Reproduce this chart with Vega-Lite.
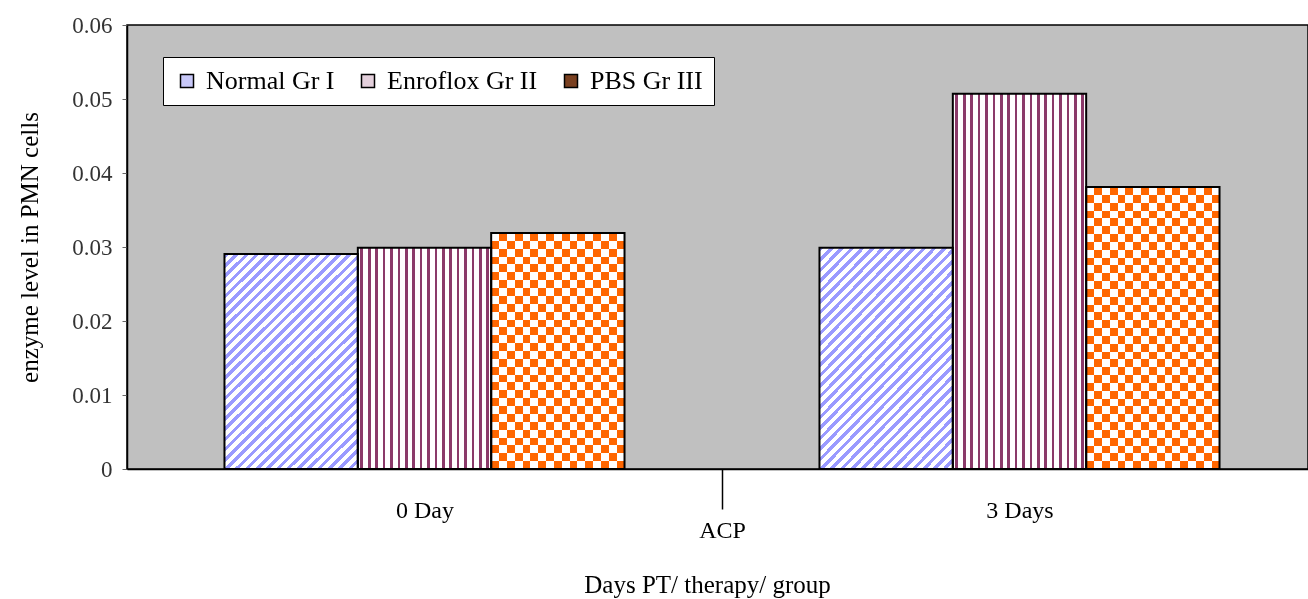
{
  "$schema": "https://vega.github.io/schema/vega-lite/v6.json",
  "description": "ACP enzyme level in PMN cells by day and group",
  "width": 1181,
  "height": 444,
  "autosize": "none",
  "padding": {"left": 127, "top": 25, "right": 0, "bottom": 130},
  "background": "white",
  "title": {
    "text": "Days PT/ therapy/ group",
    "orient": "bottom",
    "anchor": "middle",
    "frame": "group",
    "font": "Liberation Serif",
    "fontSize": 25,
    "fontWeight": "normal",
    "color": "black",
    "offset": 31,
    "dx": -10
  },
  "data": {
    "values": [
      {"day": "0 Day", "group": "Normal Gr I", "value": 0.02905},
      {"day": "0 Day", "group": "Enroflox Gr II", "value": 0.0299},
      {"day": "0 Day", "group": "PBS Gr III", "value": 0.0319},
      {"day": "3 Days", "group": "Normal Gr I", "value": 0.0299},
      {"day": "3 Days", "group": "Enroflox Gr II", "value": 0.0507},
      {"day": "3 Days", "group": "PBS Gr III", "value": 0.0381}
    ]
  },
  "encoding": {
    "x": {
      "field": "day",
      "type": "nominal",
      "scale": {"domain": ["0 Day", "3 Days"], "range": [0, 1190], "paddingInner": 0, "paddingOuter": 0},
      "axis": {
        "title": "ACP",
        "labelAngle": 0,
        "domainColor": "black",
        "domainWidth": 1.5,
        "tickBand": "extent",
        "tickSize": 40,
        "tickColor": "black",
        "tickWidth": 1.5,
        "tickOpacity": {"condition": {"test": "datum.value === '0 Day'", "value": 1}, "value": 0},
        "labelFont": "Liberation Serif",
        "labelFontSize": 24,
        "labelColor": "black",
        "labelPadding": -11,
        "titleFont": "Liberation Serif",
        "titleFontSize": 24,
        "titleFontWeight": "normal",
        "titleColor": "black",
        "titlePadding": -4
      }
    },
    "xOffset": {
      "field": "group",
      "type": "nominal",
      "scale": {"domain": ["Normal Gr I", "Enroflox Gr II", "PBS Gr III"], "paddingInner": 0, "paddingOuter": 0.731}
    },
    "y": {
      "field": "value",
      "type": "quantitative",
      "scale": {"domain": [0, 0.06], "nice": false},
      "axis": {
        "title": "enzyme level in PMN cells",
        "values": [0, 0.01, 0.02, 0.03, 0.04, 0.05, 0.06],
        "format": "~g",
        "grid": false,
        "domainColor": "black",
        "domainWidth": 1.5,
        "tickColor": "#666666",
        "tickSize": 5,
        "labelFont": "Liberation Serif",
        "labelFontSize": 23,
        "labelColor": "#333333",
        "labelPadding": 10,
        "titleFont": "Liberation Serif",
        "titleFontSize": 25,
        "titleFontWeight": "normal",
        "titleColor": "black",
        "titlePadding": 29
      }
    }
  },
  "layer": [
    {
      "mark": {"type": "bar"},
      "encoding": {
        "fill": {
          "field": "group",
          "type": "nominal",
          "scale": {"domain": ["Normal Gr I", "Enroflox Gr II", "PBS Gr III"], "range": ["#c8c8f8", "#e4d0dc", "#7a4020"]},
          "legend": {
            "title": null,
            "orient": "none",
            "legendX": 36,
            "legendY": 32,
            "direction": "horizontal",
            "columns": 3,
            "fillColor": "white",
            "strokeColor": "black",
            "padding": 11,
            "symbolType": "square",
            "symbolSize": 169,
            "symbolStrokeColor": "black",
            "symbolStrokeWidth": 1.5,
            "symbolOpacity": 1,
            "labelFont": "Liberation Serif",
            "labelFontSize": 26,
            "labelColor": "black",
            "labelOffset": 6,
            "columnPadding": 20,
            "labelLimit": 300
          }
        }
      }
    },
    {
      "mark": {"type": "bar"},
      "encoding": {
        "fill": {
          "condition": [
            {
              "test": "datum.group === 'Normal Gr I'",
              "value": {
                "gradient": "linear", "x1": 0, "y1": 0, "x2": 0.72, "y2": 1.17,
                "stops": [
                  {"offset": 0, "color": "#9a9aff"}, {"offset": 0.0132, "color": "#9a9aff"}, {"offset": 0.0132, "color": "#ffffff"}, {"offset": 0.0294, "color": "#ffffff"},
                  {"offset": 0.0294, "color": "#9a9aff"}, {"offset": 0.0426, "color": "#9a9aff"}, {"offset": 0.0426, "color": "#ffffff"}, {"offset": 0.0588, "color": "#ffffff"},
                  {"offset": 0.0588, "color": "#9a9aff"}, {"offset": 0.072, "color": "#9a9aff"}, {"offset": 0.072, "color": "#ffffff"}, {"offset": 0.0882, "color": "#ffffff"},
                  {"offset": 0.0882, "color": "#9a9aff"}, {"offset": 0.1014, "color": "#9a9aff"}, {"offset": 0.1014, "color": "#ffffff"}, {"offset": 0.1176, "color": "#ffffff"},
                  {"offset": 0.1176, "color": "#9a9aff"}, {"offset": 0.1308, "color": "#9a9aff"}, {"offset": 0.1308, "color": "#ffffff"}, {"offset": 0.1471, "color": "#ffffff"},
                  {"offset": 0.1471, "color": "#9a9aff"}, {"offset": 0.1603, "color": "#9a9aff"}, {"offset": 0.1603, "color": "#ffffff"}, {"offset": 0.1765, "color": "#ffffff"},
                  {"offset": 0.1765, "color": "#9a9aff"}, {"offset": 0.1897, "color": "#9a9aff"}, {"offset": 0.1897, "color": "#ffffff"}, {"offset": 0.2059, "color": "#ffffff"},
                  {"offset": 0.2059, "color": "#9a9aff"}, {"offset": 0.2191, "color": "#9a9aff"}, {"offset": 0.2191, "color": "#ffffff"}, {"offset": 0.2353, "color": "#ffffff"},
                  {"offset": 0.2353, "color": "#9a9aff"}, {"offset": 0.2485, "color": "#9a9aff"}, {"offset": 0.2485, "color": "#ffffff"}, {"offset": 0.2647, "color": "#ffffff"},
                  {"offset": 0.2647, "color": "#9a9aff"}, {"offset": 0.2779, "color": "#9a9aff"}, {"offset": 0.2779, "color": "#ffffff"}, {"offset": 0.2941, "color": "#ffffff"},
                  {"offset": 0.2941, "color": "#9a9aff"}, {"offset": 0.3073, "color": "#9a9aff"}, {"offset": 0.3073, "color": "#ffffff"}, {"offset": 0.3235, "color": "#ffffff"},
                  {"offset": 0.3235, "color": "#9a9aff"}, {"offset": 0.3367, "color": "#9a9aff"}, {"offset": 0.3367, "color": "#ffffff"}, {"offset": 0.3529, "color": "#ffffff"},
                  {"offset": 0.3529, "color": "#9a9aff"}, {"offset": 0.3661, "color": "#9a9aff"}, {"offset": 0.3661, "color": "#ffffff"}, {"offset": 0.3824, "color": "#ffffff"},
                  {"offset": 0.3824, "color": "#9a9aff"}, {"offset": 0.3956, "color": "#9a9aff"}, {"offset": 0.3956, "color": "#ffffff"}, {"offset": 0.4118, "color": "#ffffff"},
                  {"offset": 0.4118, "color": "#9a9aff"}, {"offset": 0.425, "color": "#9a9aff"}, {"offset": 0.425, "color": "#ffffff"}, {"offset": 0.4412, "color": "#ffffff"},
                  {"offset": 0.4412, "color": "#9a9aff"}, {"offset": 0.4544, "color": "#9a9aff"}, {"offset": 0.4544, "color": "#ffffff"}, {"offset": 0.4706, "color": "#ffffff"},
                  {"offset": 0.4706, "color": "#9a9aff"}, {"offset": 0.4838, "color": "#9a9aff"}, {"offset": 0.4838, "color": "#ffffff"}, {"offset": 0.5, "color": "#ffffff"},
                  {"offset": 0.5, "color": "#9a9aff"}, {"offset": 0.5132, "color": "#9a9aff"}, {"offset": 0.5132, "color": "#ffffff"}, {"offset": 0.5294, "color": "#ffffff"},
                  {"offset": 0.5294, "color": "#9a9aff"}, {"offset": 0.5426, "color": "#9a9aff"}, {"offset": 0.5426, "color": "#ffffff"}, {"offset": 0.5588, "color": "#ffffff"},
                  {"offset": 0.5588, "color": "#9a9aff"}, {"offset": 0.572, "color": "#9a9aff"}, {"offset": 0.572, "color": "#ffffff"}, {"offset": 0.5882, "color": "#ffffff"},
                  {"offset": 0.5882, "color": "#9a9aff"}, {"offset": 0.6014, "color": "#9a9aff"}, {"offset": 0.6014, "color": "#ffffff"}, {"offset": 0.6176, "color": "#ffffff"},
                  {"offset": 0.6176, "color": "#9a9aff"}, {"offset": 0.6308, "color": "#9a9aff"}, {"offset": 0.6308, "color": "#ffffff"}, {"offset": 0.6471, "color": "#ffffff"},
                  {"offset": 0.6471, "color": "#9a9aff"}, {"offset": 0.6603, "color": "#9a9aff"}, {"offset": 0.6603, "color": "#ffffff"}, {"offset": 0.6765, "color": "#ffffff"},
                  {"offset": 0.6765, "color": "#9a9aff"}, {"offset": 0.6897, "color": "#9a9aff"}, {"offset": 0.6897, "color": "#ffffff"}, {"offset": 0.7059, "color": "#ffffff"},
                  {"offset": 0.7059, "color": "#9a9aff"}, {"offset": 0.7191, "color": "#9a9aff"}, {"offset": 0.7191, "color": "#ffffff"}, {"offset": 0.7353, "color": "#ffffff"},
                  {"offset": 0.7353, "color": "#9a9aff"}, {"offset": 0.7485, "color": "#9a9aff"}, {"offset": 0.7485, "color": "#ffffff"}, {"offset": 0.7647, "color": "#ffffff"},
                  {"offset": 0.7647, "color": "#9a9aff"}, {"offset": 0.7779, "color": "#9a9aff"}, {"offset": 0.7779, "color": "#ffffff"}, {"offset": 0.7941, "color": "#ffffff"},
                  {"offset": 0.7941, "color": "#9a9aff"}, {"offset": 0.8073, "color": "#9a9aff"}, {"offset": 0.8073, "color": "#ffffff"}, {"offset": 0.8235, "color": "#ffffff"},
                  {"offset": 0.8235, "color": "#9a9aff"}, {"offset": 0.8367, "color": "#9a9aff"}, {"offset": 0.8367, "color": "#ffffff"}, {"offset": 0.8529, "color": "#ffffff"},
                  {"offset": 0.8529, "color": "#9a9aff"}, {"offset": 0.8661, "color": "#9a9aff"}, {"offset": 0.8661, "color": "#ffffff"}, {"offset": 0.8824, "color": "#ffffff"},
                  {"offset": 0.8824, "color": "#9a9aff"}, {"offset": 0.8956, "color": "#9a9aff"}, {"offset": 0.8956, "color": "#ffffff"}, {"offset": 0.9118, "color": "#ffffff"},
                  {"offset": 0.9118, "color": "#9a9aff"}, {"offset": 0.925, "color": "#9a9aff"}, {"offset": 0.925, "color": "#ffffff"}, {"offset": 0.9412, "color": "#ffffff"},
                  {"offset": 0.9412, "color": "#9a9aff"}, {"offset": 0.9544, "color": "#9a9aff"}, {"offset": 0.9544, "color": "#ffffff"}, {"offset": 0.9706, "color": "#ffffff"},
                  {"offset": 0.9706, "color": "#9a9aff"}, {"offset": 0.9838, "color": "#9a9aff"}, {"offset": 0.9838, "color": "#ffffff"}, {"offset": 1, "color": "#ffffff"}
                ]
              }
            },
            {
              "test": "datum.group === 'Enroflox Gr II'",
              "value": {
                "gradient": "linear", "x1": 0, "y1": 0, "x2": 1, "y2": 0,
                "stops": [
                  {"offset": 0.02, "color": "#ffffff"}, {"offset": 0.02, "color": "#8b3a6a"}, {"offset": 0.04, "color": "#8b3a6a"}, {"offset": 0.04, "color": "#ffffff"},
                  {"offset": 0.0756, "color": "#ffffff"}, {"offset": 0.0756, "color": "#8b3a6a"}, {"offset": 0.0956, "color": "#8b3a6a"}, {"offset": 0.0956, "color": "#ffffff"},
                  {"offset": 0.1311, "color": "#ffffff"}, {"offset": 0.1311, "color": "#8b3a6a"}, {"offset": 0.1511, "color": "#8b3a6a"}, {"offset": 0.1511, "color": "#ffffff"},
                  {"offset": 0.1867, "color": "#ffffff"}, {"offset": 0.1867, "color": "#8b3a6a"}, {"offset": 0.2067, "color": "#8b3a6a"}, {"offset": 0.2067, "color": "#ffffff"},
                  {"offset": 0.2422, "color": "#ffffff"}, {"offset": 0.2422, "color": "#8b3a6a"}, {"offset": 0.2622, "color": "#8b3a6a"}, {"offset": 0.2622, "color": "#ffffff"},
                  {"offset": 0.2978, "color": "#ffffff"}, {"offset": 0.2978, "color": "#8b3a6a"}, {"offset": 0.3178, "color": "#8b3a6a"}, {"offset": 0.3178, "color": "#ffffff"},
                  {"offset": 0.3533, "color": "#ffffff"}, {"offset": 0.3533, "color": "#8b3a6a"}, {"offset": 0.3733, "color": "#8b3a6a"}, {"offset": 0.3733, "color": "#ffffff"},
                  {"offset": 0.4089, "color": "#ffffff"}, {"offset": 0.4089, "color": "#8b3a6a"}, {"offset": 0.4289, "color": "#8b3a6a"}, {"offset": 0.4289, "color": "#ffffff"},
                  {"offset": 0.4644, "color": "#ffffff"}, {"offset": 0.4644, "color": "#8b3a6a"}, {"offset": 0.4844, "color": "#8b3a6a"}, {"offset": 0.4844, "color": "#ffffff"},
                  {"offset": 0.52, "color": "#ffffff"}, {"offset": 0.52, "color": "#8b3a6a"}, {"offset": 0.54, "color": "#8b3a6a"}, {"offset": 0.54, "color": "#ffffff"},
                  {"offset": 0.5756, "color": "#ffffff"}, {"offset": 0.5756, "color": "#8b3a6a"}, {"offset": 0.5956, "color": "#8b3a6a"}, {"offset": 0.5956, "color": "#ffffff"},
                  {"offset": 0.6311, "color": "#ffffff"}, {"offset": 0.6311, "color": "#8b3a6a"}, {"offset": 0.6511, "color": "#8b3a6a"}, {"offset": 0.6511, "color": "#ffffff"},
                  {"offset": 0.6867, "color": "#ffffff"}, {"offset": 0.6867, "color": "#8b3a6a"}, {"offset": 0.7067, "color": "#8b3a6a"}, {"offset": 0.7067, "color": "#ffffff"},
                  {"offset": 0.7422, "color": "#ffffff"}, {"offset": 0.7422, "color": "#8b3a6a"}, {"offset": 0.7622, "color": "#8b3a6a"}, {"offset": 0.7622, "color": "#ffffff"},
                  {"offset": 0.7978, "color": "#ffffff"}, {"offset": 0.7978, "color": "#8b3a6a"}, {"offset": 0.8178, "color": "#8b3a6a"}, {"offset": 0.8178, "color": "#ffffff"},
                  {"offset": 0.8533, "color": "#ffffff"}, {"offset": 0.8533, "color": "#8b3a6a"}, {"offset": 0.8733, "color": "#8b3a6a"}, {"offset": 0.8733, "color": "#ffffff"},
                  {"offset": 0.9089, "color": "#ffffff"}, {"offset": 0.9089, "color": "#8b3a6a"}, {"offset": 0.9289, "color": "#8b3a6a"}, {"offset": 0.9289, "color": "#ffffff"},
                  {"offset": 0.9644, "color": "#ffffff"}, {"offset": 0.9644, "color": "#8b3a6a"}, {"offset": 0.9844, "color": "#8b3a6a"}, {"offset": 0.9844, "color": "#ffffff"}
                ]
              }
            }
          ],
          "value": {
            "gradient": "linear", "x1": 0, "y1": 0, "x2": 1, "y2": 0,
            "stops": [
              {"offset": 0.0588, "color": "#000000"}, {"offset": 0.0588, "color": "#0099ff"}, {"offset": 0.1176, "color": "#0099ff"}, {"offset": 0.1176, "color": "#000000"},
              {"offset": 0.1765, "color": "#000000"}, {"offset": 0.1765, "color": "#0099ff"}, {"offset": 0.2353, "color": "#0099ff"}, {"offset": 0.2353, "color": "#000000"},
              {"offset": 0.2941, "color": "#000000"}, {"offset": 0.2941, "color": "#0099ff"}, {"offset": 0.3529, "color": "#0099ff"}, {"offset": 0.3529, "color": "#000000"},
              {"offset": 0.4118, "color": "#000000"}, {"offset": 0.4118, "color": "#0099ff"}, {"offset": 0.4706, "color": "#0099ff"}, {"offset": 0.4706, "color": "#000000"},
              {"offset": 0.5294, "color": "#000000"}, {"offset": 0.5294, "color": "#0099ff"}, {"offset": 0.5882, "color": "#0099ff"}, {"offset": 0.5882, "color": "#000000"},
              {"offset": 0.6471, "color": "#000000"}, {"offset": 0.6471, "color": "#0099ff"}, {"offset": 0.7059, "color": "#0099ff"}, {"offset": 0.7059, "color": "#000000"},
              {"offset": 0.7647, "color": "#000000"}, {"offset": 0.7647, "color": "#0099ff"}, {"offset": 0.8235, "color": "#0099ff"}, {"offset": 0.8235, "color": "#000000"},
              {"offset": 0.8824, "color": "#000000"}, {"offset": 0.8824, "color": "#0099ff"}, {"offset": 0.9412, "color": "#0099ff"}, {"offset": 0.9412, "color": "#000000"}
            ]
          }
        }
      }
    },
    {
      "transform": [{"filter": "datum.group === 'PBS Gr III'"}],
      "mark": {"type": "bar", "blend": "difference"},
      "encoding": {
        "fill": {
          "condition": {
            "test": "datum.day === '0 Day'",
            "value": {
              "gradient": "linear", "x1": 0, "y1": 0, "x2": 0, "y2": 1,
              "stops": [
                {"offset": 0.0333, "color": "#000000"}, {"offset": 0.0333, "color": "#0099ff"}, {"offset": 0.0667, "color": "#0099ff"}, {"offset": 0.0667, "color": "#000000"},
                {"offset": 0.1, "color": "#000000"}, {"offset": 0.1, "color": "#0099ff"}, {"offset": 0.1333, "color": "#0099ff"}, {"offset": 0.1333, "color": "#000000"},
                {"offset": 0.1667, "color": "#000000"}, {"offset": 0.1667, "color": "#0099ff"}, {"offset": 0.2, "color": "#0099ff"}, {"offset": 0.2, "color": "#000000"},
                {"offset": 0.2333, "color": "#000000"}, {"offset": 0.2333, "color": "#0099ff"}, {"offset": 0.2667, "color": "#0099ff"}, {"offset": 0.2667, "color": "#000000"},
                {"offset": 0.3, "color": "#000000"}, {"offset": 0.3, "color": "#0099ff"}, {"offset": 0.3333, "color": "#0099ff"}, {"offset": 0.3333, "color": "#000000"},
                {"offset": 0.3667, "color": "#000000"}, {"offset": 0.3667, "color": "#0099ff"}, {"offset": 0.4, "color": "#0099ff"}, {"offset": 0.4, "color": "#000000"},
                {"offset": 0.4333, "color": "#000000"}, {"offset": 0.4333, "color": "#0099ff"}, {"offset": 0.4667, "color": "#0099ff"}, {"offset": 0.4667, "color": "#000000"},
                {"offset": 0.5, "color": "#000000"}, {"offset": 0.5, "color": "#0099ff"}, {"offset": 0.5333, "color": "#0099ff"}, {"offset": 0.5333, "color": "#000000"},
                {"offset": 0.5667, "color": "#000000"}, {"offset": 0.5667, "color": "#0099ff"}, {"offset": 0.6, "color": "#0099ff"}, {"offset": 0.6, "color": "#000000"},
                {"offset": 0.6333, "color": "#000000"}, {"offset": 0.6333, "color": "#0099ff"}, {"offset": 0.6667, "color": "#0099ff"}, {"offset": 0.6667, "color": "#000000"},
                {"offset": 0.7, "color": "#000000"}, {"offset": 0.7, "color": "#0099ff"}, {"offset": 0.7333, "color": "#0099ff"}, {"offset": 0.7333, "color": "#000000"},
                {"offset": 0.7667, "color": "#000000"}, {"offset": 0.7667, "color": "#0099ff"}, {"offset": 0.8, "color": "#0099ff"}, {"offset": 0.8, "color": "#000000"},
                {"offset": 0.8333, "color": "#000000"}, {"offset": 0.8333, "color": "#0099ff"}, {"offset": 0.8667, "color": "#0099ff"}, {"offset": 0.8667, "color": "#000000"},
                {"offset": 0.9, "color": "#000000"}, {"offset": 0.9, "color": "#0099ff"}, {"offset": 0.9333, "color": "#0099ff"}, {"offset": 0.9333, "color": "#000000"},
                {"offset": 0.9667, "color": "#000000"}, {"offset": 0.9667, "color": "#0099ff"}, {"offset": 1, "color": "#0099ff"}
              ]
            }
          },
          "value": {
            "gradient": "linear", "x1": 0, "y1": 0, "x2": 0, "y2": 1,
            "stops": [
              {"offset": 0.0278, "color": "#000000"}, {"offset": 0.0278, "color": "#0099ff"}, {"offset": 0.0556, "color": "#0099ff"}, {"offset": 0.0556, "color": "#000000"},
              {"offset": 0.0833, "color": "#000000"}, {"offset": 0.0833, "color": "#0099ff"}, {"offset": 0.1111, "color": "#0099ff"}, {"offset": 0.1111, "color": "#000000"},
              {"offset": 0.1389, "color": "#000000"}, {"offset": 0.1389, "color": "#0099ff"}, {"offset": 0.1667, "color": "#0099ff"}, {"offset": 0.1667, "color": "#000000"},
              {"offset": 0.1944, "color": "#000000"}, {"offset": 0.1944, "color": "#0099ff"}, {"offset": 0.2222, "color": "#0099ff"}, {"offset": 0.2222, "color": "#000000"},
              {"offset": 0.25, "color": "#000000"}, {"offset": 0.25, "color": "#0099ff"}, {"offset": 0.2778, "color": "#0099ff"}, {"offset": 0.2778, "color": "#000000"},
              {"offset": 0.3056, "color": "#000000"}, {"offset": 0.3056, "color": "#0099ff"}, {"offset": 0.3333, "color": "#0099ff"}, {"offset": 0.3333, "color": "#000000"},
              {"offset": 0.3611, "color": "#000000"}, {"offset": 0.3611, "color": "#0099ff"}, {"offset": 0.3889, "color": "#0099ff"}, {"offset": 0.3889, "color": "#000000"},
              {"offset": 0.4167, "color": "#000000"}, {"offset": 0.4167, "color": "#0099ff"}, {"offset": 0.4444, "color": "#0099ff"}, {"offset": 0.4444, "color": "#000000"},
              {"offset": 0.4722, "color": "#000000"}, {"offset": 0.4722, "color": "#0099ff"}, {"offset": 0.5, "color": "#0099ff"}, {"offset": 0.5, "color": "#000000"},
              {"offset": 0.5278, "color": "#000000"}, {"offset": 0.5278, "color": "#0099ff"}, {"offset": 0.5556, "color": "#0099ff"}, {"offset": 0.5556, "color": "#000000"},
              {"offset": 0.5833, "color": "#000000"}, {"offset": 0.5833, "color": "#0099ff"}, {"offset": 0.6111, "color": "#0099ff"}, {"offset": 0.6111, "color": "#000000"},
              {"offset": 0.6389, "color": "#000000"}, {"offset": 0.6389, "color": "#0099ff"}, {"offset": 0.6667, "color": "#0099ff"}, {"offset": 0.6667, "color": "#000000"},
              {"offset": 0.6944, "color": "#000000"}, {"offset": 0.6944, "color": "#0099ff"}, {"offset": 0.7222, "color": "#0099ff"}, {"offset": 0.7222, "color": "#000000"},
              {"offset": 0.75, "color": "#000000"}, {"offset": 0.75, "color": "#0099ff"}, {"offset": 0.7778, "color": "#0099ff"}, {"offset": 0.7778, "color": "#000000"},
              {"offset": 0.8056, "color": "#000000"}, {"offset": 0.8056, "color": "#0099ff"}, {"offset": 0.8333, "color": "#0099ff"}, {"offset": 0.8333, "color": "#000000"},
              {"offset": 0.8611, "color": "#000000"}, {"offset": 0.8611, "color": "#0099ff"}, {"offset": 0.8889, "color": "#0099ff"}, {"offset": 0.8889, "color": "#000000"},
              {"offset": 0.9167, "color": "#000000"}, {"offset": 0.9167, "color": "#0099ff"}, {"offset": 0.9444, "color": "#0099ff"}, {"offset": 0.9444, "color": "#000000"},
              {"offset": 0.9722, "color": "#000000"}, {"offset": 0.9722, "color": "#0099ff"}, {"offset": 1, "color": "#0099ff"}
            ]
          }
        }
      }
    },
    {
      "transform": [{"filter": "datum.group === 'PBS Gr III'"}],
      "mark": {"type": "bar", "blend": "difference"},
      "encoding": {"fill": {"value": "#ffffff"}}
    },
    {
      "mark": {"type": "bar", "fill": "transparent", "stroke": "black", "strokeWidth": 2}
    }
  ],
  "config": {
    "font": "Liberation Serif",
    "view": {"stroke": "black", "strokeWidth": 1.5, "fill": "#c0c0c0"}
  }
}
